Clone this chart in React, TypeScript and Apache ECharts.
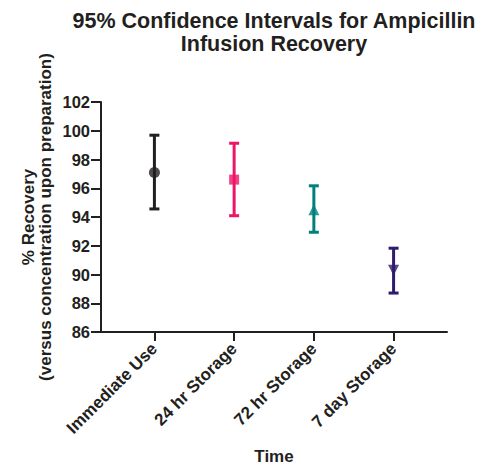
import React, { useEffect, useRef } from "react";
import * as echarts from "echarts";

const categories = ["Immediate Use", "24 hr Storage", "72 hr Storage", "7 day Storage"];
const means = [97.1, 96.6, 94.5, 90.3];
const lowers = [94.56, 94.09, 92.94, 88.71];
const uppers = [99.69, 99.13, 96.17, 91.83];
const colors = ["#231f20", "#ec1666", "#00807b", "#2e1b6c"];
const symbols = ["circle", "rect", "triangle", "triangle"];
const symbolRotations = [0, 0, 0, 180];
const yTicks = { min: 86, max: 102, interval: 2 };

const FONT = "Liberation Sans, Arial, Helvetica, sans-serif";
const DARK = "#231f20";

export default function App() {
  const ref = useRef<HTMLDivElement>(null);
  useEffect(() => {
    if (!ref.current) return;
    const chart = echarts.init(ref.current, null, { renderer: "svg" });
    const idx = categories.map((_, i) => i);
    const option: any = {
      animation: false,
      backgroundColor: "#ffffff",
      textStyle: { fontFamily: FONT },
      grid: { left: 101, right: 54, top: 102, bottom: 138, containLabel: false },
      graphic: [
        {
          type: "text",
          x: 274,
          y: 32,
          style: {
            text: "95% Confidence Intervals for Ampicillin\nInfusion Recovery",
            font: `bold 21.5px ${FONT}`,
            fill: DARK,
            textAlign: "center",
            textVerticalAlign: "middle",
            lineHeight: 23,
          },
        },
        {
          type: "text",
          x: 28,
          y: 217,
          rotation: Math.PI / 2,
          style: {
            text: "% Recovery",
            font: `bold 17px ${FONT}`,
            fill: DARK,
            textAlign: "center",
            textVerticalAlign: "middle",
          },
        },
        {
          type: "text",
          x: 45,
          y: 217,
          rotation: Math.PI / 2,
          style: {
            text: "(versus concentration upon preparation)",
            font: `bold 17px ${FONT}`,
            fill: DARK,
            textAlign: "center",
            textVerticalAlign: "middle",
          },
        },
      ],
      xAxis: {
        type: "value",
        min: -0.67,
        max: 3.67,
        name: "Time",
        nameLocation: "middle",
        nameGap: 116,
        nameTextStyle: { fontFamily: FONT, fontWeight: "bold", fontSize: 17, color: DARK },
        splitLine: { show: false },
        axisLine: { show: true, onZero: false, lineStyle: { color: DARK, width: 2 } },
        axisTick: { show: true, customValues: idx, length: 9, lineStyle: { color: DARK, width: 2 } },
        axisLabel: {
          show: true,
          customValues: idx,
          rotate: 45,
          margin: 14,
          fontFamily: FONT,
          fontWeight: "bold",
          fontSize: 17,
          color: DARK,
          formatter: (v: number) => categories[Math.round(v)] ?? "",
        },
      },
      yAxis: {
        type: "value",
        min: yTicks.min,
        max: yTicks.max,
        interval: yTicks.interval,
        splitLine: { show: false },
        axisLine: { show: true, onZero: false, lineStyle: { color: DARK, width: 2 } },
        axisTick: { show: true, length: 10, lineStyle: { color: DARK, width: 2 } },
        axisLabel: {
          margin: 11,
          fontFamily: FONT,
          fontWeight: "bold",
          fontSize: 16.5,
          color: DARK,
        },
      },
      series: [
        {
          type: "custom",
          data: idx.map((i) => [i, lowers[i], uppers[i]]),
          renderItem: (params: any, api: any) => {
            const x = api.value(0);
            const lo = api.coord([x, api.value(1)]);
            const hi = api.coord([x, api.value(2)]);
            const half = 5;
            const style = { stroke: colors[params.dataIndex], lineWidth: 3 };
            return {
              type: "group",
              children: [
                { type: "line", shape: { x1: lo[0], y1: lo[1], x2: hi[0], y2: hi[1] }, style },
                { type: "line", shape: { x1: lo[0] - half, y1: lo[1], x2: lo[0] + half, y2: lo[1] }, style },
                { type: "line", shape: { x1: hi[0] - half, y1: hi[1], x2: hi[0] + half, y2: hi[1] }, style },
              ],
            };
          },
          z: 2,
        },
        {
          type: "scatter",
          z: 3,
          data: idx.map((i) => ({
            value: [i, means[i]],
            symbol: symbols[i],
            symbolRotate: symbolRotations[i],
            symbolSize: i === 1 ? 10 : 11,
            itemStyle: { color: colors[i] },
          })),
        },
      ],
    };
    chart.setOption(option);
    return () => chart.dispose();
  }, []);
  return (
    <div
      ref={ref}
      style={{ position: "absolute", left: 0, top: 0, width: 501, height: 470 }}
    />
  );
}
